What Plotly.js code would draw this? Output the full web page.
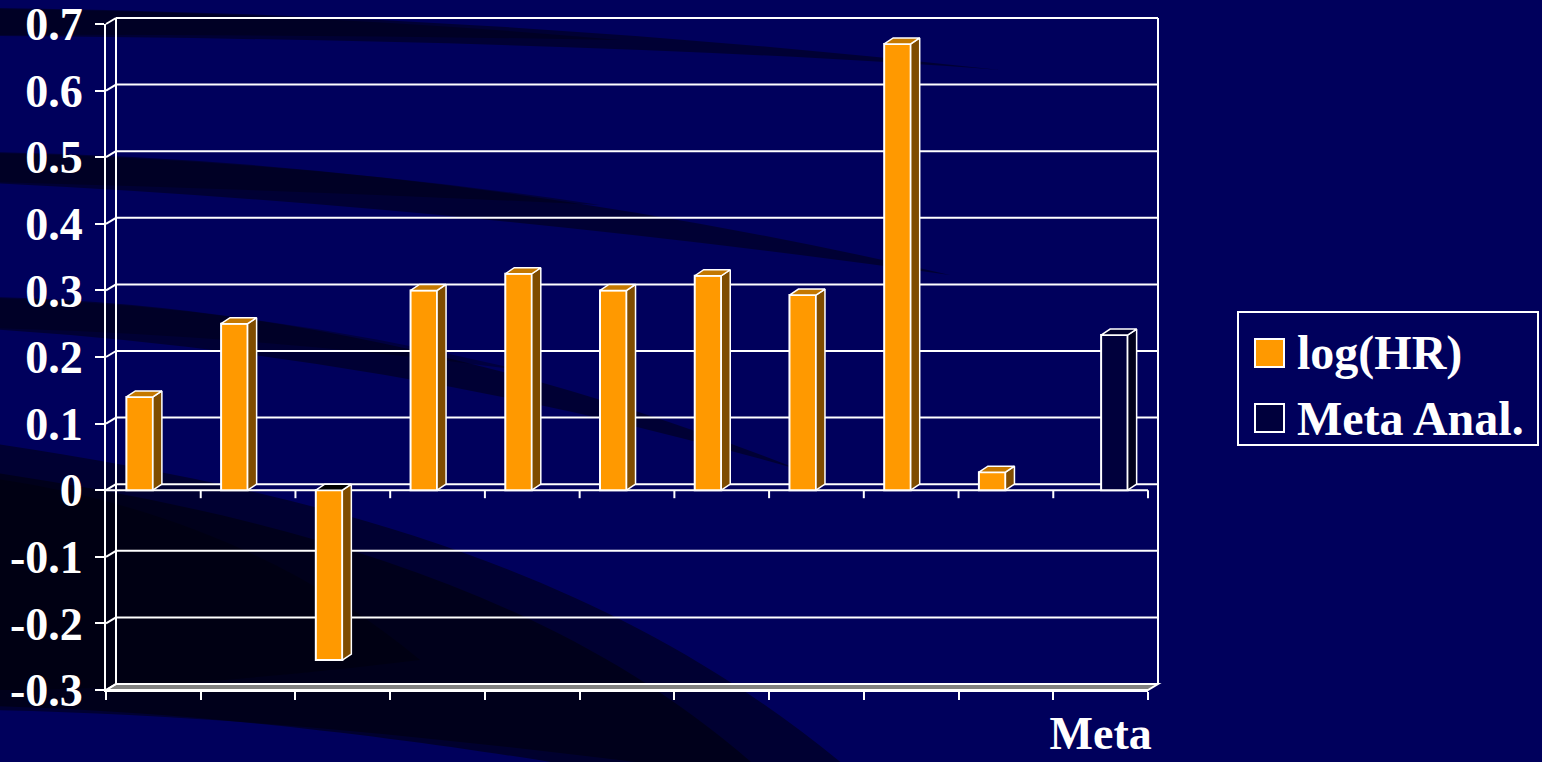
<!DOCTYPE html>
<html><head><meta charset="utf-8">
<script src="https://cdn.plot.ly/plotly-3.0.1.min.js"></script>
<style>html,body{margin:0;padding:0;background:#00005c;overflow:hidden}#chart{width:1542px;height:762px}</style>
</head><body><div id="chart"></div>
<script>
// ---------- data ----------
const categories = ['1','2','3','4','5','6','7','8','9','10','Meta'];
const tickLabels = ['','','','','','','','','','','Meta'];
const logHR     = [0.14, 0.25, -0.255, 0.30, 0.325, 0.30, 0.322, 0.293, 0.67, 0.027, null];
const metaAnal  = [null, null, null, null, null, null, null, null, null, null, 0.233];
const yTickVals = [-0.3,-0.2,-0.1,0,0.1,0.2,0.3,0.4,0.5,0.6,0.7];
const yTickText = ['-0.3','-0.2','-0.1','0','0.1','0.2','0.3','0.4','0.5','0.6','0.7'];
const seriesNames = ['log(HR)', 'Meta Anal.'];

// ---------- geometry / style ----------
const W=1542, H=762, ML=106, MR=384, MT=18, MB=72;
const PW=W-ML-MR, PH=H-MT-MB;
const WALL_DX=10, WALL_DY=6, BAR_DX=9, BAR_DY=6;
const xRange=[-0.5, categories.length-0.5], yRange=[-0.3,0.7];
const xDomain=[0,(PW-WALL_DX)/PW], yDomain=[0,(PH-WALL_DY)/PH];
const pxPerX=(PW-WALL_DX)/(xRange[1]-xRange[0]);
const pxPerY=(PH-WALL_DY)/(yRange[1]-yRange[0]);
const FONT='"Liberation Serif", "Times New Roman", serif';
const ORANGE={front:'#ff9900', side:'#7f4c00', top:'#c47800', neg:'#000000'};
const NAVY={front:'#00003c', side:'#00001c', top:'#00002c', neg:'#000000'};
const BAR_W=0.28;

const xs = categories.map((_,i)=>i);
const fx = v => (v-xRange[0])/(xRange[1]-xRange[0])*xDomain[1];
const fy = v => (v-yRange[0])/(yRange[1]-yRange[0])*yDomain[1];
const bx = v => fx(v)+WALL_DX/PW;
const by = v => fy(v)+WALL_DY/PH;
const ppx = px => (px-ML)/PW;
const ppy = py => (H-MB-py)/PH;

// ---------- traces ----------
const traces = [];
function addSeries(vals, name, col, offset){
  traces.push({type:'bar', x:xs, y:vals, name:name, width:BAR_W, offset:offset,
    marker:{color:col.front, line:{color:'#ffffff', width:2}}, hoverinfo:'skip', showlegend:false});
  const dxU=BAR_DX/pxPerX, dyU=BAR_DY/pxPerY;
  vals.forEach((v,i)=>{
    if(v===null) return;
    const x0=i+offset, x1=x0+BAR_W, lo=Math.min(0,v), hi=Math.max(0,v);
    traces.push({type:'scatter', mode:'lines', x:[x1,x1,x1+dxU,x1+dxU,x1], y:[lo,hi,hi+dyU,lo+dyU,lo],
      fill:'toself', fillcolor:col.side, line:{color:'#ffffff', width:1.5}, hoverinfo:'skip', showlegend:false});
    traces.push({type:'scatter', mode:'lines', x:[x0,x1,x1+dxU,x0+dxU,x0], y:[hi,hi,hi+dyU,hi+dyU,hi],
      fill:'toself', fillcolor: v>=0?col.top:col.neg, line:{color:'#ffffff', width:1.5}, hoverinfo:'skip', showlegend:false});
  });
}
addSeries(logHR, seriesNames[0], ORANGE, -0.285);
addSeries(metaAnal, seriesNames[1], NAVY, 0.005);

// ---------- shapes ----------
const shapes=[];
function P(pts){ return pts.map(p=>`${ppx(p[0]).toFixed(5)},${ppy(p[1]).toFixed(5)}`).join(' '); }
function deco(d, color){ shapes.push({type:'path', xref:'paper', yref:'paper', layer:'below', path:d, fillcolor:color, line:{width:0}}); }
// background swooshes (decoration)
deco('M'+P([[-10,8]])+' Q'+P([[500,14],[1000,70]])+' Q'+P([[600,40],[-10,36]])+' Z','rgba(0,0,20,0.55)');
deco('M'+P([[-10,9]])+' Q'+P([[300,12],[620,40]])+' Q'+P([[300,34],[-10,35]])+' Z','rgba(0,0,20,0.45)');
deco('M'+P([[-10,152]])+' Q'+P([[450,160],[950,275]])+' Q'+P([[450,205],[-10,183]])+' Z','rgba(0,0,20,0.55)');
deco('M'+P([[-10,153]])+' Q'+P([[300,160],[600,205]])+' Q'+P([[300,190],[-10,182]])+' Z','rgba(0,0,20,0.45)');
deco('M'+P([[-10,297]])+' Q'+P([[380,305],[800,470]])+' Q'+P([[400,355],[-10,329]])+' Z','rgba(0,0,20,0.55)');
deco('M'+P([[-10,298]])+' Q'+P([[250,305],[520,370]])+' Q'+P([[250,335],[-10,328]])+' Z','rgba(0,0,20,0.4)');
// lower-left dark region
deco('M'+P([[-10,443]])+' C'+P([[300,490],[600,560],[850,770]])+' L'+P([[700,770]])+' C'+P([[500,745],[250,715],[-10,710]])+' Z','rgba(0,0,22,0.6)');
deco('M'+P([[-10,472]])+' C'+P([[280,515],[560,590],[760,770]])+' L'+P([[600,770]])+' C'+P([[450,745],[220,712],[-10,706]])+' Z','rgba(0,0,10,0.55)');
deco('M'+P([[-10,478]])+' C'+P([[150,500],[300,560],[420,660]])+' C'+P([[250,680],[120,690],[-10,690]])+' Z','rgba(0,0,5,0.35)');

const WL={color:'#ffffff', width:2};
// floor
shapes.push({type:'path', xref:'paper', yref:'paper', layer:'below',
  path:`M${fx(xRange[0])},${fy(yRange[0])} L${bx(xRange[0])},${by(yRange[0])} L${bx(xRange[1])},${by(yRange[0])} L${fx(xRange[1])},${fy(yRange[0])} Z`,
  fillcolor:'#808080', line:WL});
// back wall gridlines + connectors
yTickVals.forEach(v=>{
  shapes.push({type:'line', xref:'paper', yref:'paper', layer:'below', x0:bx(xRange[0]), x1:bx(xRange[1]), y0:by(v), y1:by(v), line:WL});
  shapes.push({type:'line', xref:'paper', yref:'paper', layer:'below', x0:fx(xRange[0]), x1:bx(xRange[0]), y0:fy(v), y1:by(v), line:WL});
});
// back-left and right wall verticals
shapes.push({type:'line', xref:'paper', yref:'paper', layer:'below', x0:bx(xRange[0]), x1:bx(xRange[0]), y0:by(yRange[0]), y1:by(yRange[1]), line:WL});
shapes.push({type:'line', xref:'paper', yref:'paper', layer:'below', x0:bx(xRange[1]), x1:bx(xRange[1]), y0:by(yRange[0]), y1:by(yRange[1]), line:WL});
// front zero line with ticks
shapes.push({type:'line', xref:'paper', yref:'paper', layer:'below', x0:fx(xRange[0]), x1:fx(xRange[1]), y0:fy(0), y1:fy(0), line:WL});
const boundaries = categories.map((_,i)=>i+0.5);
boundaries.forEach(b=>{
  shapes.push({type:'line', xref:'paper', yref:'paper', layer:'below', x0:fx(b), x1:fx(b), y0:fy(0), y1:fy(0)-8/PH, line:WL});
});

// legend (manual)
shapes.push({type:'rect', xref:'paper', yref:'paper', x0:ppx(1238), x1:ppx(1538), y0:ppy(445), y1:ppy(312), line:WL, fillcolor:'rgba(0,0,0,0)'});
shapes.push({type:'rect', xref:'paper', yref:'paper', x0:ppx(1255), x1:ppx(1284), y0:ppy(367), y1:ppy(339), line:WL, fillcolor:ORANGE.front});
shapes.push({type:'rect', xref:'paper', yref:'paper', x0:ppx(1255), x1:ppx(1284), y0:ppy(432), y1:ppy(404), line:WL, fillcolor:NAVY.front});
const LEGFONT={family:FONT, size:48, color:'#ffffff', weight:'bold'};
const annotations=[
  {xref:'paper', yref:'paper', x:ppx(1295), y:ppy(353), xanchor:'left', yanchor:'middle', text:seriesNames[0], showarrow:false, font:LEGFONT},
  {xref:'paper', yref:'paper', x:ppx(1295), y:ppy(418), xanchor:'left', yanchor:'middle', text:seriesNames[1], showarrow:false, font:LEGFONT}
];

const layout={
  width:W, height:H, margin:{l:ML, r:MR, t:MT, b:MB, pad:0},
  paper_bgcolor:'#00005c', plot_bgcolor:'rgba(0,0,0,0)',
  barmode:'overlay', showlegend:false,
  xaxis:{domain:xDomain, range:xRange, tickmode:'array', tickvals:xs, ticktext:tickLabels,
    showgrid:false, zeroline:false, showline:true, linecolor:'#ffffff', linewidth:2,
    ticks:'', ticklabelstandoff:2, ticklabeloverflow:'allow',
    tickfont:{family:FONT, size:46, color:'#ffffff', weight:'bold'},
    minor:{tickmode:'array', tickvals:[-0.5].concat(boundaries), ticks:'outside', ticklen:8, tickwidth:2, tickcolor:'#ffffff', showgrid:false},
    fixedrange:true},
  yaxis:{domain:yDomain, range:yRange, tickmode:'array', tickvals:yTickVals, ticktext:yTickText,
    showgrid:false, zeroline:false, showline:true, linecolor:'#ffffff', linewidth:2,
    ticks:'outside', ticklen:9, tickwidth:2, tickcolor:'#ffffff', ticklabelstandoff:3, ticklabeloverflow:'allow',
    tickfont:{family:FONT, size:46, color:'#ffffff', weight:'bold'}, fixedrange:true},
  shapes:shapes, annotations:annotations
};
Plotly.newPlot('chart', traces, layout, {displayModeBar:false, staticPlot:true});
</script></body></html>
